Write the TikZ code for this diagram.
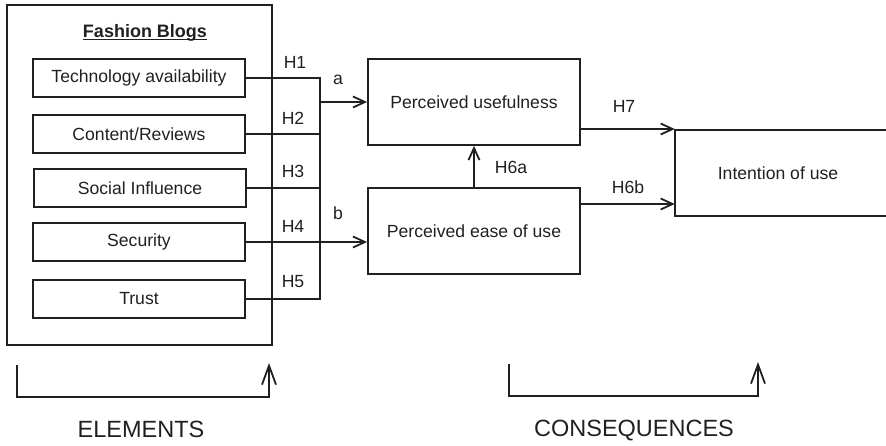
\documentclass[tikz,border=0pt]{standalone}
\usepackage{fontspec}
\setmainfont{Liberation Sans}
\usetikzlibrary{arrows.meta}
\definecolor{ink}{RGB}{35,31,32}
\begin{document}
\begin{tikzpicture}[x=1pt,y=-1pt,
  box/.style={draw=ink,line width=1.8pt,minimum width=212pt,minimum height=38pt,inner sep=0pt,font=\fontsize{17.6}{20}\selectfont,text=ink},
  bigbox/.style={box,minimum width=212pt,minimum height=86pt},
  lbl/.style={font=\fontsize{17.6}{20}\selectfont,text=ink,inner sep=0pt},
  conn/.style={draw=ink,line width=1.8pt},
  arr/.style={conn,-{Straight Barb[length=12pt,width=11pt,line width=1.8pt]}},
  barr/.style={conn,-{Straight Barb[length=19pt,width=14pt,line width=1.8pt]}},
  capt/.style={font=\fontsize{23.5}{26}\selectfont,text=ink,inner sep=0pt}
]
\useasboundingbox (0,0) rectangle (886,445);

% outer container
\node[draw=ink,line width=1.8pt,minimum width=265pt,minimum height=340pt,inner sep=0pt] (fb) at (139.5,175) {};
\node[lbl,font=\bfseries\fontsize{18}{20}\selectfont,anchor=base] (title) at (145,37) {Fashion Blogs};
\draw[ink,line width=1.4pt] ([yshift=-2.5pt]title.base west) -- ([yshift=-2.5pt]title.base east);

% element boxes
\node[box] (tech)  at (139,78)  {Technology availability};
\node[box] (cont)  at (139,134) {Content/Reviews};
\node[box] (soc)   at (140,188) {Social Influence};
\node[box] (sec)   at (139,242) {Security};
\node[box] (trust) at (139,299) {Trust};

% consequence boxes
\node[bigbox] (pu)   at (474,102) {Perceived usefulness};
\node[bigbox] (peou) at (474,231) {Perceived ease of use};
\node[lbl,minimum width=206pt,minimum height=86pt] (iou) at (778,173) {Intention of use};
\draw[conn] ([xshift=8pt]iou.north east) -- (iou.north west) -- (iou.south west) -- ([xshift=8pt]iou.south east);

% bus
\coordinate (bus) at (320,0);
\draw[conn] (tech.east) -- (tech.east -| bus) -- (bus |- trust.east) -- (trust.east);
\draw[conn] (cont.east) -- (cont.east -| bus);
\draw[conn] (soc.east) -- (soc.east -| bus);
\draw[arr] (sec.east) -- (sec.east -| peou.west);
\draw[arr] (pu.west -| bus) -- (pu.west);

% hypotheses labels
\node[lbl] (h1) at (295,62)  {H1};
\node[lbl] (h2) at (293,118) {H2};
\node[lbl] (h3) at (293,171) {H3};
\node[lbl] (h4) at (293,226) {H4};
\node[lbl] (h5) at (293,282) {H5};
\node[lbl] (la) at (338,80)  {a};
\node[lbl] (lb) at (338,213) {b};

% right side arrows
\coordinate (h7y) at (0,129);
\coordinate (h6by) at (0,204);
\draw[arr] (pu.east |- h7y) -- (iou.west |- h7y);
\draw[arr] (peou.east |- h6by) -- (iou.west |- h6by);
\draw[arr] (peou.north) -- (pu.south);
\node[lbl] (h7)  at (624,106) {H7};
\node[lbl] (h6b) at (628,187) {H6b};
\node[lbl] (h6a) at (511,167) {H6a};

% brackets
\coordinate (e1) at (17,365);
\coordinate (e2) at (269,363);
\coordinate (c1) at (509,364);
\coordinate (c2) at (758,362);
\draw[barr] (e1) -- ++(0,32) -| (e2);
\draw[barr] (c1) -- ++(0,32) -| (c2);
\node[capt] (el) at (141,429) {ELEMENTS};
\node[capt] (co) at (634,431) {CONSEQUENCES};
\end{tikzpicture}
\end{document}
